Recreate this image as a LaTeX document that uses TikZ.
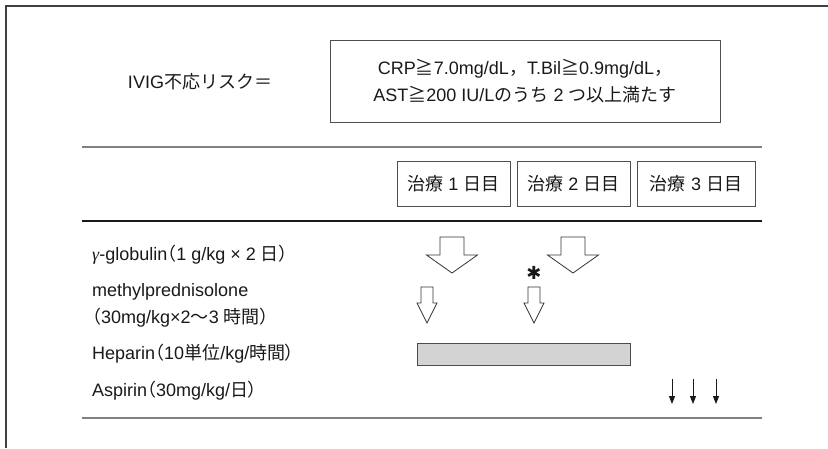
\documentclass[tikz,border=0pt]{standalone}
\usepackage{fontspec}
\setmainfont{Liberation Sans}
\newfontfamily\cjk{Noto Sans CJK JP}
\newfontfamily\cjkp[RawFeature=+palt]{Noto Sans CJK JP}
\newfontfamily\gfont{Liberation Serif}
\newfontfamily\symfont{DejaVu Sans}
\usetikzlibrary{arrows.meta}
\definecolor{framecol}{HTML}{404040}
\definecolor{rulegray}{HTML}{808080}
\definecolor{boxcol}{HTML}{505050}
\definecolor{barfill}{HTML}{D3D3D3}
\begin{document}
\begin{tikzpicture}[x=1pt,y=-1pt,
  font=\fontsize{18}{27}\selectfont,
  txt/.style={inner sep=0pt, text=black!90},
  daybox/.style={draw=boxcol, line width=1pt, minimum height=45, inner sep=0pt, text=black!90},
  rulegrey/.style={draw=rulegray, line width=1.5pt},
  ruleblack/.style={draw=black!90, line width=1.5pt},
  arrowline/.style={draw=black!80, line width=0.8pt, fill=white, line join=miter},
  bigarrow/.pic={\path[arrowline] (-12,0) -- (12,0) -- (12,18) -- (25.5,18) -- (0,36) -- (-25.5,18) -- (-12,18) -- cycle;},
  smallarrow/.pic={\path[arrowline] (-6,0) -- (6,0) -- (6,16) -- (10,16) -- (0,36) -- (-10,16) -- (-6,16) -- cycle;},
  thinarrow/.style={draw=black!90, line width=1pt, -{Triangle[length=8pt,width=6pt]}}
]
\useasboundingbox (0,0) rectangle (828,448);
% outer frame (cut off at right and bottom)
\draw[framecol, line width=1.8pt] (6,448) -- (6,6) -- (828,6);

% risk definition
\node[txt] (risklabel) at (200,82) {IVIG{\cjk 不応リスク＝}};
\node[draw=boxcol, line width=1pt, minimum width=390, minimum height=82, align=center, inner sep=0pt, text=black!90] (risk) at (525,81)
  {CRP{\cjk ≧}7.0mg/dL{\cjk ，}T.Bil{\cjk ≧}0.9mg/dL{\cjk ，}\\AST{\cjk ≧}200 IU/L{\cjk のうち} 2 {\cjk つ以上満たす}};

% rules
\coordinate (r1a) at (82,147); \coordinate (r1b) at (762,147);
\coordinate (r2a) at (82,221); \coordinate (r2b) at (762,221);
\coordinate (r3a) at (82,418); \coordinate (r3b) at (762,418);
\draw[rulegrey] (r1a) -- (r1b);
\draw[ruleblack] (r2a) -- (r2b);
\draw[rulegrey] (r3a) -- (r3b);

% day boxes
\node[daybox, minimum width=113] (day1) at (453.5,184) {{\cjk 治療} 1 {\cjk 日目}};
\node[daybox, minimum width=113] (day2) at (573.5,184) {{\cjk 治療} 2 {\cjk 日目}};
\node[daybox, minimum width=118] (day3) at (696,184) {{\cjk 治療} 3 {\cjk 日目}};

% row labels
\node[txt, anchor=west] (glob) at (92,255) {{\gfont\itshape γ}-globulin{\cjkp （}1 g/kg × 2 {\cjk 日}{\cjkp ）}};
\node[txt, anchor=west] (mp1) at (92,292) {methylprednisolone};
\node[txt, anchor=west] (mp2) at (92,318) {{\cjkp （}30mg/kg×2{\cjk ～}3 {\cjk 時間}{\cjkp ）}};
\node[txt, anchor=west] (hep) at (92,354) {Heparin{\cjkp （}10{\cjk 単位}/kg/{\cjk 時間}{\cjkp ）}};
\node[txt, anchor=west] (asp) at (92,391) {Aspirin{\cjkp （}30mg/kg/{\cjk 日}{\cjkp ）}};

% gamma-globulin arrows
\pic at (452,237) {bigarrow};
\pic at (573,237) {bigarrow};
% methylprednisolone arrows
\pic at (427,287) {smallarrow};
\pic at (534,287) {smallarrow};
\node[txt] (star) at (534,273) {\fontsize{18}{18}\selectfont\symfont ✱};

% heparin bar
\node[draw=black!70, line width=1pt, fill=barfill, minimum width=213, minimum height=22, inner sep=0pt] (bar) at (523.5,354) {};

% aspirin arrows
\coordinate (a1s) at (672,379); \coordinate (a1e) at (672,404);
\coordinate (a2s) at (693,379); \coordinate (a2e) at (693,404);
\coordinate (a3s) at (716,379); \coordinate (a3e) at (716,404);
\draw[thinarrow] (a1s) -- (a1e);
\draw[thinarrow] (a2s) -- (a2e);
\draw[thinarrow] (a3s) -- (a3e);
\end{tikzpicture}
\end{document}
